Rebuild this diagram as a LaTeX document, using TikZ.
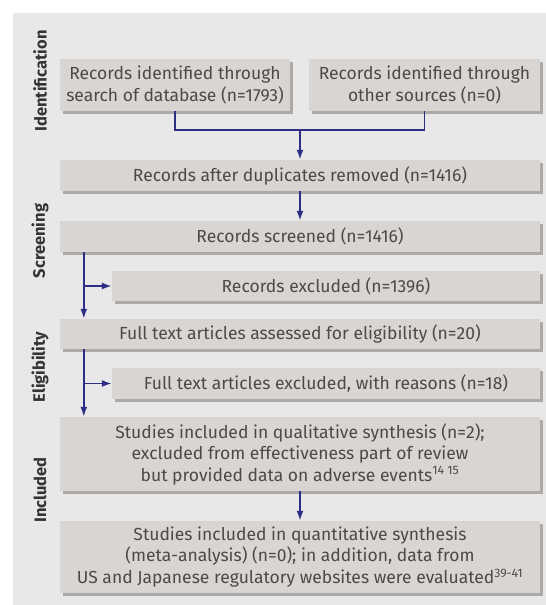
\documentclass[tikz,border=0pt]{standalone}
\usepackage{fontspec}
\setmainfont{Fira Sans}
\usepackage{xcolor}
\usetikzlibrary{shadows,arrows.meta}
\definecolor{panel-bg}{HTML}{E8E8E8}
\definecolor{box-bg}{HTML}{D9D5D2}
\definecolor{box-shadow}{HTML}{ADA9A6}
\definecolor{flow-blue}{HTML}{2E2E86}
\definecolor{text-grey}{HTML}{4A4A4A}

\tikzset{
  stagebox/.style={fill=box-bg, inner sep=0pt, align=center, text=text-grey,
    font=\fontsize{17.5}{21.5}\selectfont,
    drop shadow={shadow xshift=3pt, shadow yshift=-3pt, fill=box-shadow, opacity=1}},
  phase/.style={rotate=90, text=text-grey!70!black, font=\fontsize{16.5}{19}\selectfont\bfseries},
  flow/.style={draw=flow-blue, line width=1.8pt, -{Latex[length=10pt,width=7pt]}},
  flowline/.style={draw=flow-blue, line width=1.8pt}
}

\begin{document}
\begin{tikzpicture}[x=1pt, y=-1pt]
    \useasboundingbox (0,0) rectangle (546,605);
    \fill[panel-bg] (13,13) rectangle (546,605);

    % phases
    \node[phase] (idn) at (40, 81) {Identification};
    \node[phase] (scr) at (40, 241) {Screening};
    \node[phase] (elg) at (40, 367) {Eligibility};
    \node[phase] (inc) at (40, 490) {Included};

    % boxes
    \node[stagebox, minimum width=230, minimum height=52] (db) at (175, 85) {Records identified through\\search of database (n=1793)};
    \node[stagebox, minimum width=231, minimum height=52] (other) at (424.5, 85) {Records identified through\\other sources (n=0)};
    \node[stagebox, minimum width=480, minimum height=31] (dup) at (300, 175.5) {Records after duplicates removed (n=1416)};
    \node[stagebox, minimum width=480, minimum height=31] (screen) at (300, 236.5) {Records screened (n=1416)};
    \node[stagebox, minimum width=428, minimum height=30] (recex) at (326, 286) {Records excluded (n=1396)};
    \node[stagebox, minimum width=480, minimum height=30] (full) at (300, 334) {Full text articles assessed for eligibility (n=20)};
    \node[stagebox, minimum width=428, minimum height=31] (fullex) at (326, 383.5) {Full text articles excluded, with reasons (n=18)};
    \node[stagebox, minimum width=480, minimum height=74] (qual) at (300, 454) {Studies included in qualitative synthesis (n=2);\\excluded from effectiveness part of review\\but provided data on adverse events\textsuperscript{14 15}};
    \node[stagebox, minimum width=480, minimum height=72] (quant) at (300, 557) {Studies included in quantitative synthesis\\(meta-analysis) (n=0); in addition, data from\\US and Japanese regulatory websites were evaluated\textsuperscript{39-41}};

    % connectors
    \coordinate (merge) at (300, 130);
    \draw[flowline] (db.south) |- (merge) -| (other.south);
    \draw[flow] (merge) -- (dup.north);
    \draw[flow] (dup.south) -- (screen.north);
    \draw[flow] ([xshift=24pt]screen.south west) coordinate (s1) -- (s1 |- full.north);
    \draw[flow] (s1 |- recex.west) -- (recex.west);
    \draw[flow] ([xshift=24pt]full.south west) coordinate (s2) -- (s2 |- qual.north);
    \draw[flow] (s2 |- fullex.west) -- (fullex.west);
    \draw[flow] (qual.south) -- (quant.north);
  \end{tikzpicture}
\end{document}
